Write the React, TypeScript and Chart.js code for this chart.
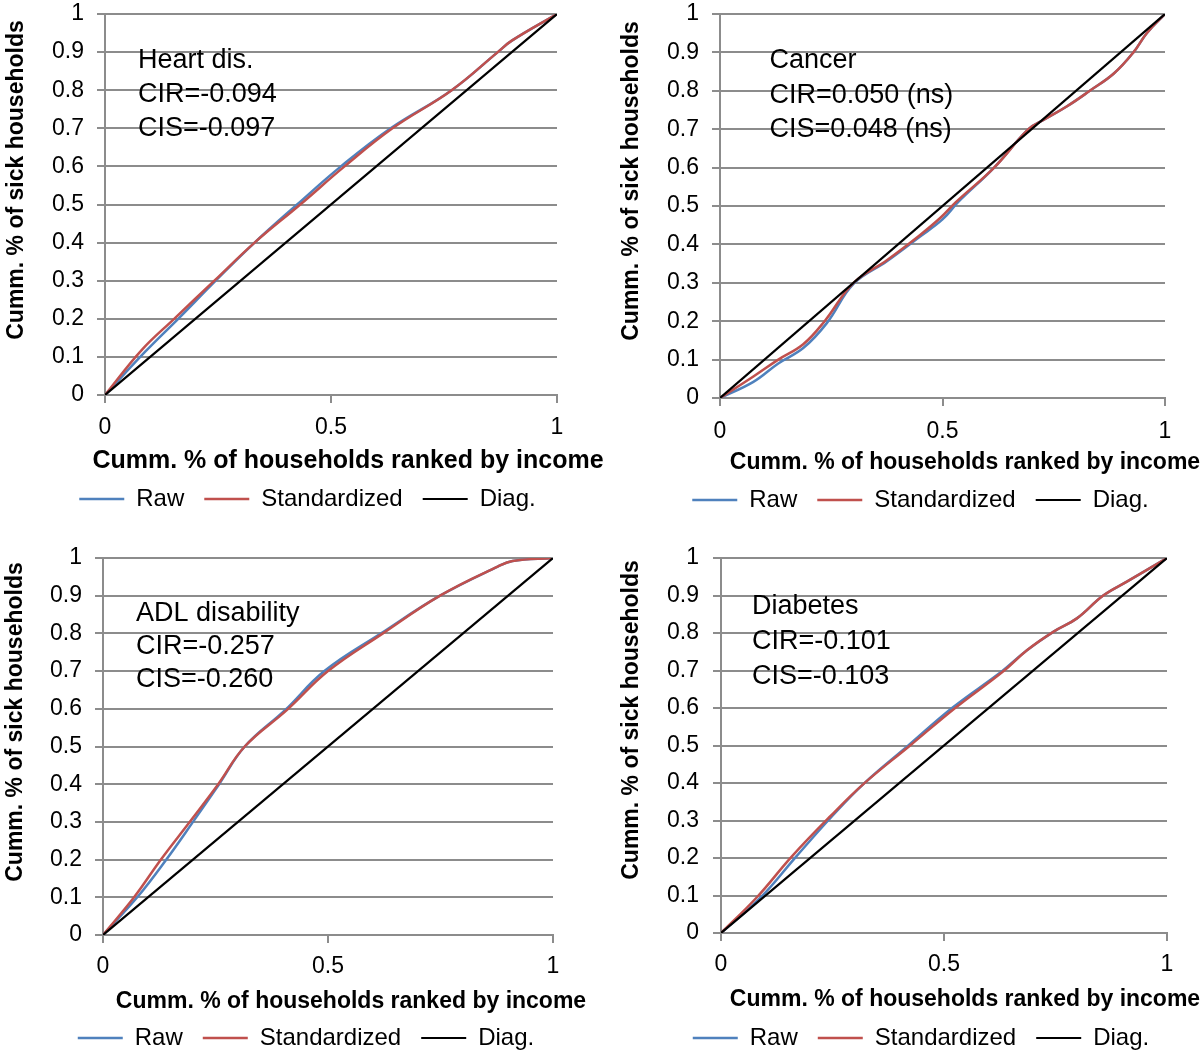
import React, { useEffect, useRef } from 'react';
import { Chart, registerables } from 'chart.js';

Chart.register(...registerables);

const FONT = '"Liberation Sans", Arial, Helvetica, sans-serif';

// ---------------- data ----------------
const SERIES_NAMES = ['Raw', 'Standardized', 'Diag.'];
const X_TITLE = 'Cumm. % of households ranked by income';
const Y_TITLE = 'Cumm. % of sick households';
const Y_TICK_VALUES = [0, 0.1, 0.2, 0.3, 0.4, 0.5, 0.6, 0.7, 0.8, 0.9, 1];
const Y_TICK_LABELS = ['0', '0.1', '0.2', '0.3', '0.4', '0.5', '0.6', '0.7', '0.8', '0.9', '1'];
const X_TICK_VALUES = [0, 0.5, 1];
const X_TICK_LABELS = ['0', '0.5', '1'];
const DIAG_X = [0, 1];
const DIAG_Y = [0, 1];

// Heart disease
const HEART_TEXT = ['Heart dis.', 'CIR=-0.094', 'CIS=-0.097'];
const HEART_STD_X = [0, 0.081, 0.153, 0.242, 0.331, 0.432, 0.53, 0.636, 0.767, 0.869, 0.9, 1];
const HEART_STD_Y = [0, 0.118, 0.2, 0.3, 0.4, 0.5, 0.6, 0.7, 0.8, 0.9, 0.93, 1];
const HEART_RAW_X = [0, 0.09, 0.162, 0.245, 0.331, 0.425, 0.522, 0.632, 0.767, 0.869, 0.9, 1];
const HEART_RAW_Y = [0, 0.115, 0.2, 0.3, 0.4, 0.5, 0.6, 0.7, 0.8, 0.9, 0.93, 1];

// Cancer
const CANCER_TEXT = ['Cancer', 'CIR=0.050 (ns)', 'CIS=0.048 (ns)'];
const CANCER_STD_X = [0, 0.075, 0.131, 0.187, 0.235, 0.3, 0.375, 0.449, 0.496, 0.53, 0.616, 0.693, 0.727, 0.779, 0.831, 0.885, 0.929, 0.959, 1];
const CANCER_STD_Y = [0, 0.056, 0.1, 0.14, 0.2, 0.3, 0.359, 0.424, 0.47, 0.51, 0.6, 0.7, 0.724, 0.759, 0.8, 0.845, 0.9, 0.95, 1];
const CANCER_RAW_X = [0, 0.075, 0.131, 0.187, 0.24, 0.3, 0.375, 0.449, 0.5, 0.535, 0.616, 0.693, 0.727, 0.779, 0.831, 0.885, 0.929, 0.959, 1];
const CANCER_RAW_Y = [0, 0.042, 0.09, 0.13, 0.195, 0.297, 0.356, 0.42, 0.465, 0.51, 0.6, 0.7, 0.724, 0.759, 0.8, 0.845, 0.9, 0.95, 1];

// ADL disability
const ADL_TEXT = ['ADL disability', 'CIR=-0.257', 'CIS=-0.260'];
const ADL_STD_X = [0, 0.069, 0.128, 0.196, 0.256, 0.315, 0.409, 0.5, 0.622, 0.749, 0.877, 0.91, 1];
const ADL_STD_Y = [0, 0.1, 0.199, 0.305, 0.4, 0.5, 0.597, 0.7, 0.8, 0.9, 0.977, 0.992, 1];
const ADL_RAW_X = [0, 0.076, 0.14, 0.2, 0.258, 0.315, 0.405, 0.492, 0.618, 0.749, 0.877, 0.91, 1];
const ADL_RAW_Y = [0, 0.1, 0.199, 0.3, 0.4, 0.5, 0.597, 0.7, 0.8, 0.9, 0.977, 0.992, 1];

// Diabetes
const DIAB_TEXT = ['Diabetes', 'CIR=-0.101', 'CIS=-0.103'];
const DIAB_STD_X = [0, 0.081, 0.158, 0.244, 0.321, 0.424, 0.525, 0.633, 0.686, 0.745, 0.798, 0.857, 0.91, 1];
const DIAB_STD_Y = [0, 0.096, 0.203, 0.31, 0.399, 0.5, 0.6, 0.698, 0.754, 0.803, 0.839, 0.9, 0.937, 1];
const DIAB_RAW_X = [0, 0.09, 0.168, 0.248, 0.321, 0.42, 0.518, 0.63, 0.686, 0.745, 0.798, 0.857, 0.91, 1];
const DIAB_RAW_Y = [0, 0.096, 0.203, 0.31, 0.399, 0.5, 0.6, 0.698, 0.754, 0.803, 0.839, 0.9, 0.937, 1];

// ---------------- styles / layout ----------------
const COLORS = { raw: '#4f81bd', std: '#c0504d', diag: '#000000', grid: '#8c8c8c' };
const TICK_SIZE = 23;
const LEGEND_SIZE = 24;
const LEGEND_PAD = 20;
const ANN_SIZE = 27;
const YTITLE_SIZE = 23;

type Layout = {
  cl: number; ct: number; cw: number; ch: number;
  L: number; R: number; T: number; B: number;
  legendCX: number; legendCY: number;
  xTickCY: number; yTickRight: number;
  xTitleX: number; xTitleY: number; xTitleSize: number;
  yTitleX: number; yTitleY: number;
  annX: number; annY: number; annDy: number;
};

const LAYOUTS: Layout[] = [
  { cl: 0, ct: 0, cw: 620, ch: 527, L: 105, R: 557, T: 14, B: 395, legendCX: 307.5, legendCY: 499,
    xTickCY: 428, yTickRight: 84, xTitleX: 348, xTitleY: 461, xTitleSize: 25, yTitleX: 17, yTitleY: 180,
    annX: 138, annY: 61, annDy: 34 },
  { cl: 600, ct: 0, cw: 600, ch: 527, L: 720, R: 1165, T: 14, B: 398, legendCX: 920.5, legendCY: 500,
    xTickCY: 432, yTickRight: 699, xTitleX: 965, xTitleY: 463, xTitleSize: 23, yTitleX: 632, yTitleY: 181,
    annX: 769.5, annY: 61, annDy: 34.5 },
  { cl: 0, ct: 527, cw: 620, ch: 540, L: 103, R: 553, T: 558, B: 935, legendCX: 306, legendCY: 1038,
    xTickCY: 967, yTickRight: 82, xTitleX: 351, xTitleY: 1002, xTitleSize: 23, yTitleX: 16, yTitleY: 722,
    annX: 136, annY: 614, annDy: 33 },
  { cl: 600, ct: 527, cw: 600, ch: 540, L: 721, R: 1167, T: 558, B: 933, legendCX: 921, legendCY: 1038,
    xTickCY: 965, yTickRight: 699, xTitleX: 965, xTitleY: 1000, xTitleSize: 23, yTitleX: 632, yTitleY: 720,
    annX: 752, annY: 607, annDy: 35 },
];

const PANELS = [
  { text: HEART_TEXT, rawX: HEART_RAW_X, rawY: HEART_RAW_Y, stdX: HEART_STD_X, stdY: HEART_STD_Y },
  { text: CANCER_TEXT, rawX: CANCER_RAW_X, rawY: CANCER_RAW_Y, stdX: CANCER_STD_X, stdY: CANCER_STD_Y },
  { text: ADL_TEXT, rawX: ADL_RAW_X, rawY: ADL_RAW_Y, stdX: ADL_STD_X, stdY: ADL_STD_Y },
  { text: DIAB_TEXT, rawX: DIAB_RAW_X, rawY: DIAB_RAW_Y, stdX: DIAB_STD_X, stdY: DIAB_STD_Y },
];

const toPoints = (xs: number[], ys: number[]) => xs.map((x, i) => ({ x, y: ys[i] }));

function Panel({ idx }: { idx: number }) {
  const ref = useRef<HTMLCanvasElement | null>(null);
  const lay = LAYOUTS[idx];
  const pan = PANELS[idx];

  useEffect(() => {
    if (!ref.current) return;
    const padL = 0;
    const padR = lay.cl + lay.cw - lay.R;
    const padT = lay.T - lay.ct;
    const legendH = LEGEND_SIZE + LEGEND_PAD + 10;
    const padB = lay.ct + lay.ch - LEGEND_SIZE / 2 - 10 - lay.legendCY;
    const legendTop = lay.ct + lay.ch - padB - legendH;
    const xAxisH = legendTop - lay.B;
    const yAxisW = lay.L - (lay.cl + padL);
    const yTickPad = lay.L - 8 - lay.yTickRight;
    const xTickPad = lay.xTickCY - lay.B - 8 - (TICK_SIZE * 1.2) / 2;

    const textPlugin = {
      id: 'panelText' + idx,
      afterLayout(chart: any) {
        // centre the legend row where the reference has it
        const lg = chart.legend;
        if (!lg) return;
        const cur = (lg.left + lg.right) / 2;
        const d = lay.legendCX - lay.cl - cur;
        lg.left += d;
        lg.right += d;
      },
      afterDraw(chart: any) {
        const ctx = chart.ctx as CanvasRenderingContext2D;
        ctx.save();
        ctx.fillStyle = '#000';
        ctx.textBaseline = 'middle';
        ctx.textAlign = 'center';
        ctx.font = `bold ${lay.xTitleSize}px ${FONT}`;
        ctx.fillText(X_TITLE, lay.xTitleX - lay.cl, lay.xTitleY - lay.ct);
        ctx.save();
        ctx.translate(lay.yTitleX - lay.cl, lay.yTitleY - lay.ct);
        ctx.rotate(-Math.PI / 2);
        ctx.font = `bold ${YTITLE_SIZE}px ${FONT}`;
        ctx.fillText(Y_TITLE, 0, 0);
        ctx.restore();
        ctx.textAlign = 'left';
        ctx.font = `${ANN_SIZE}px ${FONT}`;
        pan.text.forEach((t, i) => {
          ctx.fillText(t, lay.annX - lay.cl, lay.annY - lay.ct + i * lay.annDy);
        });
        ctx.restore();
      },
    };

    const chart = new Chart(ref.current, {
      type: 'line',
      data: {
        datasets: [
          { label: SERIES_NAMES[0], data: toPoints(pan.rawX, pan.rawY), borderColor: COLORS.raw, backgroundColor: COLORS.raw,
            borderWidth: 2.5, pointRadius: 0, tension: 0.4, order: 3, fill: false },
          { label: SERIES_NAMES[1], data: toPoints(pan.stdX, pan.stdY), borderColor: COLORS.std, backgroundColor: COLORS.std,
            borderWidth: 2.5, pointRadius: 0, tension: 0.4, order: 2, fill: false },
          { label: SERIES_NAMES[2], data: toPoints(DIAG_X, DIAG_Y), borderColor: COLORS.diag, backgroundColor: COLORS.diag,
            borderWidth: 2.2, pointRadius: 0, tension: 0, order: 1, fill: false },
        ],
      },
      options: {
        responsive: false,
        animation: false,
        events: [],
        layout: { padding: { left: padL, right: padR, top: padT, bottom: padB } },
        scales: {
          x: {
            type: 'linear',
            min: 0,
            max: 1,
            afterBuildTicks: (scale: any) => { scale.ticks = X_TICK_VALUES.map((v) => ({ value: v })); },
            afterFit: (scale: any) => {
              scale.height = xAxisH;
              scale.paddingLeft = 0;
              scale.paddingRight = 0;
            },
            ticks: {
              color: '#000',
              font: { size: TICK_SIZE, family: FONT },
              padding: xTickPad,
              maxRotation: 0,
              autoSkip: false,
              callback: (v: any) => {
                const i = X_TICK_VALUES.findIndex((t) => Math.abs(t - Number(v)) < 1e-9);
                return i >= 0 ? X_TICK_LABELS[i] : '';
              },
            },
            grid: { drawOnChartArea: false, drawTicks: true, tickLength: 8, color: COLORS.grid, lineWidth: 2 },
            border: { display: true, color: COLORS.grid, width: 2 },
          },
          y: {
            type: 'linear',
            min: 0,
            max: 1,
            afterBuildTicks: (scale: any) => { scale.ticks = Y_TICK_VALUES.map((v) => ({ value: v })); },
            afterFit: (scale: any) => {
              scale.width = yAxisW;
              scale.paddingTop = 0;
              scale.paddingBottom = 0;
            },
            ticks: {
              color: '#000',
              font: { size: TICK_SIZE, family: FONT },
              padding: yTickPad,
              autoSkip: false,
              callback: (v: any) => {
                const i = Y_TICK_VALUES.findIndex((t) => Math.abs(t - Number(v)) < 1e-9);
                return i >= 0 ? Y_TICK_LABELS[i] : '';
              },
            },
            grid: { drawOnChartArea: true, drawTicks: true, tickLength: 8, color: COLORS.grid, lineWidth: 2 },
            border: { display: true, color: COLORS.grid, width: 2 },
          },
        },
        plugins: {
          legend: {
            display: true,
            position: 'bottom',
            align: 'center',
            labels: {
              usePointStyle: true,
              pointStyle: 'line',
              pointStyleWidth: 45,
              color: '#000',
              padding: LEGEND_PAD,
              font: { size: LEGEND_SIZE, family: FONT },
              sort: (a: any, b: any) => a.datasetIndex - b.datasetIndex,
            },
          },
          tooltip: { enabled: false },
        },
      } as any,
      plugins: [textPlugin],
    });
    return () => chart.destroy();
  }, [idx]);

  return (
    <canvas
      ref={ref}
      width={lay.cw}
      height={lay.ch}
      style={{ position: 'absolute', left: lay.cl, top: lay.ct, width: lay.cw, height: lay.ch }}
    />
  );
}

export default function App() {
  return (
    <div style={{ position: 'absolute', left: 0, top: 0, width: 1200, height: 1054, overflow: 'hidden', background: '#fff' }}>
      {PANELS.map((_, i) => (
        <Panel key={i} idx={i} />
      ))}
    </div>
  );
}
